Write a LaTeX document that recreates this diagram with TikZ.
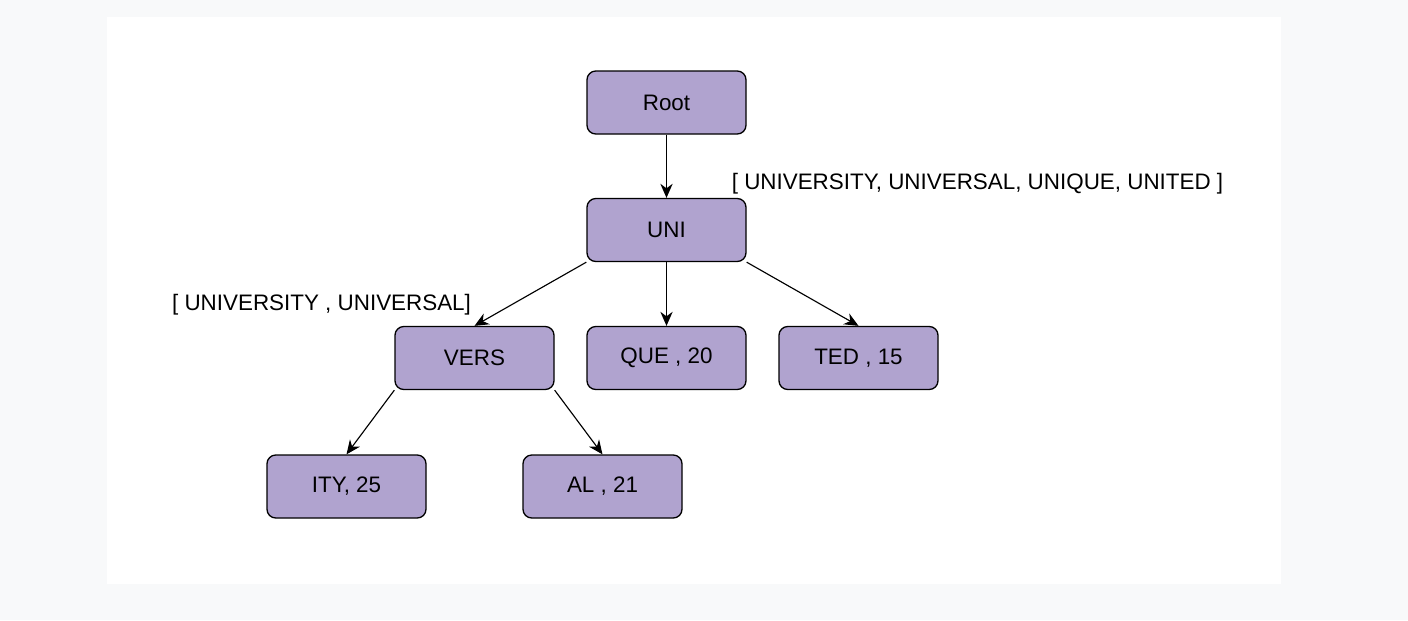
\documentclass[tikz,border=0pt]{standalone}
\usepackage{fontspec}
\setmainfont{Liberation Sans}
\usetikzlibrary{arrows.meta}
\definecolor{trienode}{RGB}{176,163,207}
\definecolor{pagegrey}{RGB}{248,249,250}

\begin{document}
\begin{tikzpicture}
\tikzstyle{every node}+=[inner sep=0pt]
\tikzstyle{trie}=[draw=black, line width=0.75pt, fill=trienode, rounded corners=5pt,
  minimum width=3.18cm, minimum height=1.26cm, font=\fontsize{12.75}{15}\selectfont]
\tikzstyle{edge}=[-{Stealth[length=8pt,width=7pt]}, line width=0.65pt]
\tikzstyle{note}=[font=\fontsize{12.75}{15}\selectfont]
% page and panel
\fill [pagegrey] (0,0) rectangle (28.16,-12.4);
\fill [white] (2.14,-0.34) rectangle (25.62,-11.68);
% nodes
\node [trie] (root) at (13.33,-2.05) {Root};
\node [trie] (uni) at (13.33,-4.6) {UNI};
\node [trie] (vers) at (9.49,-7.16) {VERS};
\node [trie] (que) at (13.33,-7.16) {QUE , 20};
\node [trie] (ted) at (17.17,-7.16) {TED , 15};
\node [trie] (ity) at (6.93,-9.73) {ITY, 25};
\node [trie] (al) at (12.05,-9.73) {AL , 21};
% word lists
\node [note] (unilist) at (19.55,-3.67) {[ UNIVERSITY, UNIVERSAL, UNIQUE, UNITED ]};
\node [note] (verslist) at (6.43,-6.09) {[ UNIVERSITY , UNIVERSAL]};
% edges
\draw [edge] (root) -- (uni);
\draw [edge] (uni.south west) -- (vers.north);
\draw [edge] (uni) -- (que);
\draw [edge] (uni.south east) -- (ted.north);
\draw [edge] (vers.south west) -- (ity.north);
\draw [edge] (vers.south east) -- (al.north);
\end{tikzpicture}
\end{document}
